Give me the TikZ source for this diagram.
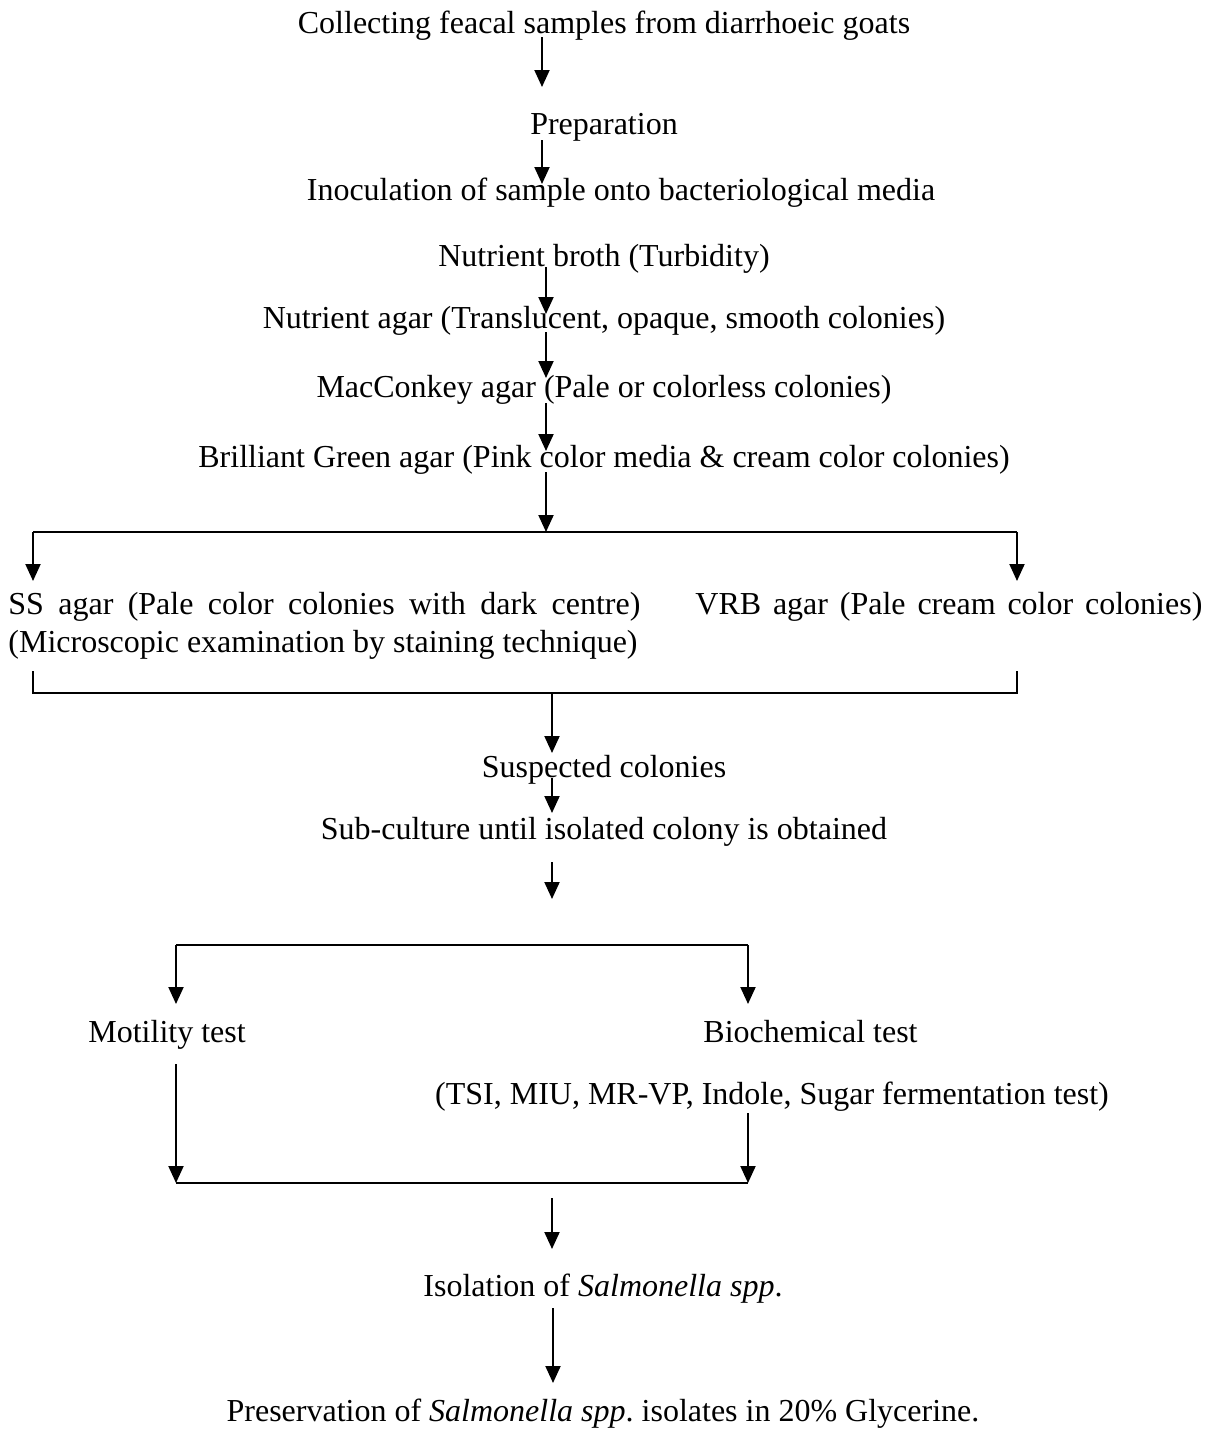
\documentclass[tikz,border=0pt]{standalone}
\usepackage{fontspec}
\setmainfont{Liberation Serif}
\usetikzlibrary{arrows.meta}
\begin{document}
\begin{tikzpicture}[x=0.5pt,y=-0.5pt,
  lbl/.style={inner sep=0pt,anchor=base,font=\fontsize{16}{19}\selectfont},
  lblw/.style={inner sep=0pt,anchor=base west,font=\fontsize{16}{19}\selectfont},
  flow/.style={line width=1pt,-{Triangle[length=8.5pt,width=7.5pt]}},
  rail/.style={line width=1pt}]
\useasboundingbox (0,0) rectangle (1212,1430);

% step labels
\node[lbl] (collect) at (604,33) {Collecting feacal samples from diarrhoeic goats};
\node[lbl] (prep) at (604,134) {Preparation};
\node[lbl] (inoc) at (621,200) {Inoculation of sample onto bacteriological media};
\node[lbl] (nbroth) at (604,266) {Nutrient broth (Turbidity)};
\node[lbl] (nagar) at (604,328) {Nutrient agar (Translucent, opaque, smooth colonies)};
\node[lbl] (mac) at (604,397) {MacConkey agar (Pale or colorless colonies)};
\node[lbl] (bga) at (604,467) {Brilliant Green agar (Pink color media \& cream color colonies)};
\node[lblw] (ss) at (8,614) {\makebox[316pt][s]{SS agar (Pale color colonies with dark centre)}};
\node[lblw] (vrb) at (695,614) {\makebox[253.5pt][s]{VRB agar (Pale cream color colonies)}};
\node[lblw] (micro) at (8,652) {(Microscopic examination by staining technique)};
\node[lbl] (susp) at (604,777) {Suspected colonies};
\node[lbl] (sub) at (604,839) {Sub-culture until isolated colony is obtained};
\node[lblw] (mot) at (88,1042) {Motility test};
\node[lblw] (bio) at (703,1042) {Biochemical test};
\node[lbl] (tsi) at (772,1104) {(TSI, MIU, MR-VP, Indole, Sugar fermentation test)};
\node[lbl] (iso) at (603,1296) {Isolation of \textit{Salmonella spp}.};
\node[lbl] (pres) at (603,1421) {Preservation of \textit{Salmonella spp}.\ isolates in 20\% Glycerine.};

% connector end points
\coordinate (a1s) at (542,37);   \coordinate (a1e) at (542,87);
\coordinate (a2s) at (542,140);  \coordinate (a2e) at (542,184);
\coordinate (a3s) at (546,267);  \coordinate (a3e) at (546,314);
\coordinate (a4s) at (546,332);  \coordinate (a4e) at (546,378);
\coordinate (a5s) at (546,403);  \coordinate (a5e) at (546,451);
\coordinate (a6s) at (546,472);  \coordinate (a6e) at (546,532);
\coordinate (r1l) at (33,532);   \coordinate (r1r) at (1017,532);
\coordinate (ssin) at (33,581);  \coordinate (vrbin) at (1017,581);
\coordinate (r2lt) at (33,671);  \coordinate (r2rt) at (1017,671);
\coordinate (r2l) at (33,693);   \coordinate (r2r) at (1017,693);
\coordinate (a7s) at (552,693);  \coordinate (a7e) at (552,753);
\coordinate (a8s) at (552,778);  \coordinate (a8e) at (552,813);
\coordinate (a9s) at (552,862);  \coordinate (a9e) at (552,899);
\coordinate (r3l) at (176,945);  \coordinate (r3r) at (748,945);
\coordinate (motin) at (176,1004); \coordinate (bioin) at (748,1004);
\coordinate (motout) at (176,1064); \coordinate (bioout) at (748,1113);
\coordinate (r4l) at (176,1183); \coordinate (r4r) at (748,1183);
\coordinate (a10s) at (552,1198); \coordinate (a10e) at (552,1249);
\coordinate (a11s) at (553,1308); \coordinate (a11e) at (553,1383);

% vertical flow
\draw[flow] (a1s) -- (a1e);
\draw[flow] (a2s) -- (a2e);
\draw[flow] (a3s) -- (a3e);
\draw[flow] (a4s) -- (a4e);
\draw[flow] (a5s) -- (a5e);
\draw[flow] (a6s) -- (a6e);

% split to the two selective media
\draw[rail] (r1l) -- (r1r);
\draw[flow] (r1l) -- (ssin);
\draw[flow] (r1r) -- (vrbin);

% merge bracket
\draw[rail] (r2lt) -- (r2l) -- (r2r) -- (r2rt);
\draw[flow] (a7s) -- (a7e);
\draw[flow] (a8s) -- (a8e);
\draw[flow] (a9s) -- (a9e);

% split to the two tests
\draw[rail] (r3l) -- (r3r);
\draw[flow] (r3l) -- (motin);
\draw[flow] (r3r) -- (bioin);
\draw[flow] (motout) -- (r4l);
\draw[flow] (bioout) -- (r4r);
\draw[rail] (r4l) -- (r4r);

\draw[flow] (a10s) -- (a10e);
\draw[flow] (a11s) -- (a11e);
\end{tikzpicture}
\end{document}
